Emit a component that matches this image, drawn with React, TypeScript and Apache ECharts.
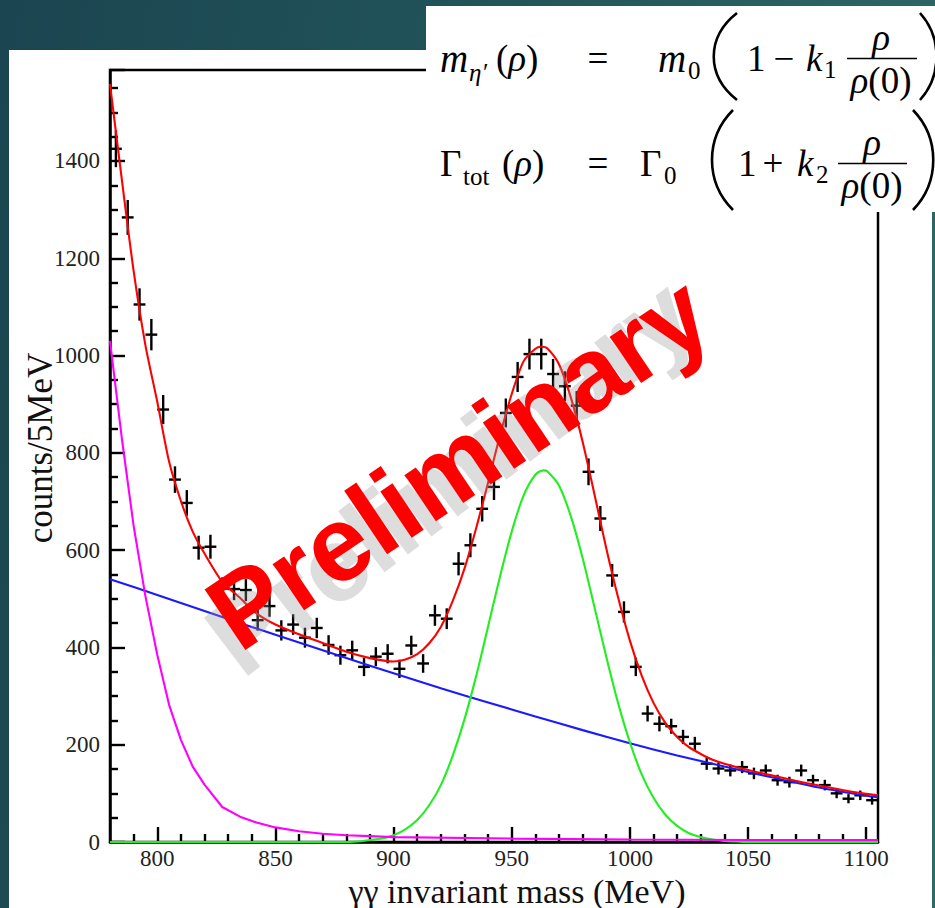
import React, { useEffect, useRef } from "react";
import * as echarts from "echarts";

// ---------- data ----------
const massBins = [
  782.5, 787.5, 792.5, 797.5, 802.5, 807.5, 812.5, 817.5, 822.5, 827.5,
  832.5, 837.5, 842.5, 847.5, 852.5, 857.5, 862.5, 867.5, 872.5, 877.5,
  882.5, 887.5, 892.5, 897.5, 902.5, 907.5, 912.5, 917.5, 922.5, 927.5,
  932.5, 937.5, 942.5, 947.5, 952.5, 957.5, 962.5, 967.5, 972.5, 977.5,
  982.5, 987.5, 992.5, 997.5, 1002.5, 1007.5, 1012.5, 1017.5, 1022.5, 1027.5,
  1032.5, 1037.5, 1042.5, 1047.5, 1052.5, 1057.5, 1062.5, 1067.5, 1072.5, 1077.5,
  1082.5, 1087.5, 1092.5, 1097.5, 1102.5,
];
const counts = [
  1425, 1284, 1105, 1043, 889, 745, 697, 605, 607, 521,
  520, 518, 456, 485, 435, 447, 420, 440, 405, 384,
  394, 360, 381, 387, 356, 404, 367, 466, 459, 572,
  610, 685, 730, 882, 956, 1003, 1003, 962, 937, 897,
  761, 665, 548, 473, 360, 264, 243, 238, 216, 202,
  161, 151, 147, 154, 141, 147, 127, 123, 147, 127,
  117, 100, 89, 96, 86,
];
const binHalfWidth = 2.5;

const totalMass = [
  780, 785, 790, 795, 800, 805, 810, 815, 820, 827.5, 835, 842, 850, 860, 870,
  880, 890, 900, 905, 910, 915, 920, 925, 930, 935, 940, 945, 950, 955, 960,
  962.5, 965, 970, 975, 980, 985, 990, 995, 1000, 1005, 1010, 1015, 1020, 1025,
  1030, 1035, 1040, 1050, 1060, 1070, 1080, 1090, 1100, 1105,
];
const totalFit = [
  1558, 1362, 1174, 1021, 905, 782, 701, 638, 593, 535, 502, 470, 447, 427, 409,
  391, 378, 371, 375, 386, 408, 442, 495, 562, 646, 739, 835, 921, 988, 1014,
  1018, 1015, 982, 914, 823, 715, 604, 503, 414, 342, 286, 245, 216, 195,
  181, 169, 161, 148, 137, 126, 116, 107, 99, 96,
];

const bkgMass = [780, 800, 820, 840, 860, 880, 900, 920, 940, 960, 980, 1000, 1020, 1040, 1060, 1080, 1100, 1105];
const bkgFit = [540, 508, 475, 442, 410, 378, 347, 316, 287, 258, 230, 203, 178, 155, 133, 112, 95, 92];

const lowMass = [780, 785, 790, 795, 800, 805, 810, 815, 820, 827.5, 835, 842, 850, 860, 870, 880, 890, 900, 950, 1000, 1050, 1105];
const lowFit = [1030, 830, 650, 505, 385, 282, 210, 155, 118, 72, 52, 40, 30, 22, 17, 14, 12, 10, 7, 5, 4, 4];

const peakMass = [
  780, 880, 885, 890, 895, 900, 905, 910, 915, 920, 925, 930, 935, 940, 945, 950,
  955, 960, 963.5, 965, 970, 975, 980, 985, 990, 995, 1000, 1005, 1010, 1015,
  1020, 1025, 1030, 1035, 1040, 1045, 1050, 1105,
];
const peakFit = [
  0, 0, 1, 4, 7, 14, 26, 45, 75, 117, 177, 252, 342, 443, 545, 638,
  712, 755, 764, 762, 733, 670, 584, 483, 381, 286, 205, 139, 91, 56,
  33, 18, 10, 5, 2, 1, 0, 0,
];

const xMajorTicks = [800, 850, 900, 950, 1000, 1050, 1100];
const xMinorTicks = [790, 810, 820, 830, 840, 860, 870, 880, 890, 910, 920, 930, 940, 960, 970, 980, 990, 1010, 1020, 1030, 1040, 1060, 1070, 1080, 1090];
const yMax = 1587;

const xTitle = "γγ invariant mass (MeV)";
const yTitle = "counts/5MeV";
const watermark = "Preliminary";

// ---------- helpers ----------
const SERIF = '"Liberation Serif", "Times New Roman", serif';
const SANS = '"Liberation Sans", Arial, sans-serif';

function txt(text: string, x: number, y: number, size: number, opts: any = {}) {
  return {
    type: "text",
    x,
    y,
    z: 120,
    style: {
      text,
      fontFamily: SERIF,
      fontSize: size,
      fontStyle: opts.italic ? "italic" : "normal",
      fill: "#000",
      align: opts.align || "left",
      verticalAlign: "middle",
      rich: opts.rich,
    },
  };
}

function paren(x1: number, y1: number, cx: number, y2: number) {
  const h = y2 - y1;
  return {
    type: "bezierCurve",
    z: 120,
    shape: {
      x1,
      y1,
      x2: x1,
      y2,
      cpx1: cx,
      cpy1: y1 + h * 0.28,
      cpx2: cx,
      cpy2: y2 - h * 0.28,
    },
    style: { stroke: "#000", lineWidth: 2.6, fill: "none" },
  };
}

function bar(x1: number, x2: number, y: number) {
  return {
    type: "line",
    z: 120,
    shape: { x1, y1: y, x2, y2: y },
    style: { stroke: "#000", lineWidth: 1.6 },
  };
}

const rhoRich = {
  i: { fontFamily: SERIF, fontStyle: "italic", fontSize: 37, fill: "#000" },
  n: { fontFamily: SERIF, fontStyle: "normal", fontSize: 37, fill: "#000" },
};

function buildOption() {
  const formula: any[] = [
    { type: "rect", z: 110, shape: { x: 426, y: 6, width: 515, height: 206 }, style: { fill: "#ffffff" } },
    // row 1
    txt("m", 440, 58, 39, { italic: true }),
    txt("η′", 469, 72, 25, { italic: true }),
    txt("{n|(}{i|ρ}{n|)}", 496, 58, 37, { rich: rhoRich }),
    txt("=", 598, 58, 37, { align: "center" }),
    txt("m", 658, 58, 39, { italic: true }),
    txt("0", 688, 70, 25),
    paren(737, 13, 706, 100),
    txt("1", 747, 58, 37),
    txt("−", 784, 58, 37, { align: "center" }),
    txt("k", 806, 58, 37, { italic: true }),
    txt("1", 824, 69, 25),
    txt("ρ", 881, 37, 37, { italic: true, align: "center" }),
    bar(847, 917, 58.5),
    txt("{i|ρ}{n|(0)}", 881, 80, 37, { rich: rhoRich, align: "center" }),
    paren(920, 13, 942, 100),
    // row 2
    txt("Γ", 440, 163, 37),
    txt("tot", 463, 176, 25),
    txt("{n|(}{i|ρ}{n|)}", 502, 163, 37, { rich: rhoRich }),
    txt("=", 598, 163, 37, { align: "center" }),
    txt("Γ", 640, 163, 37),
    txt("0", 664, 175, 25),
    paren(733, 110, 705, 210),
    txt("1", 738, 163, 37),
    txt("+", 773, 163, 37, { align: "center" }),
    txt("k", 797, 163, 37, { italic: true }),
    txt("2", 816, 174, 25),
    txt("ρ", 872, 142, 37, { italic: true, align: "center" }),
    bar(838, 907, 163.5),
    txt("{i|ρ}{n|(0)}", 872, 185, 37, { rich: rhoRich, align: "center" }),
    paren(913, 110, 940, 210),
  ];

  const titles: any[] = [
    {
      type: "text",
      x: 517,
      y: 891,
      z: 60,
      style: { text: xTitle, fontFamily: SERIF, fontSize: 34, fill: "#111", align: "center", verticalAlign: "middle" },
    },
    {
      type: "text",
      x: 40,
      y: 448,
      rotation: Math.PI / 2,
      z: 60,
      style: { text: yTitle, fontFamily: SERIF, fontSize: 35, fill: "#111", align: "center", verticalAlign: "middle" },
    },
  ];

  const mark: any[] = [
    {
      type: "text",
      x: 450,
      y: 476,
      rotation: 0.65,
      z: 48,
      style: {
        text: watermark,
        fontFamily: SANS,
        fontWeight: "bold",
        fontSize: 106,
        fill: "rgba(150,150,150,0.32)",
        align: "center",
        verticalAlign: "middle",
      },
    },
    {
      type: "text",
      x: 458,
      y: 462,
      rotation: 0.593,
      z: 50,
      style: {
        text: watermark,
        fontFamily: SANS,
        fontWeight: "bold",
        fontSize: 106,
        fill: "#ff0000",
        align: "center",
        verticalAlign: "middle",
      },
    },
  ];

  const axisLineStyle = { color: "#000", width: 2.5 };
  const tickStyle = { color: "#000", width: 2.4 };
  const labelStyle = { color: "#222", fontFamily: SERIF, fontSize: 23 };

  const lineSeries = (name: string, xs: number[], ys: number[], color: string, z: number, smooth: any) => ({
    type: "line",
    name,
    xAxisIndex: 0,
    yAxisIndex: 0,
    data: xs.map((m, i) => [m, ys[i]]),
    showSymbol: false,
    symbol: "none",
    smooth,
    clip: true,
    silent: true,
    z,
    lineStyle: { color, width: 2.1 },
  });

  return {
    animation: false,
    backgroundColor: "transparent",
    grid: {
      left: 110,
      top: 70,
      right: 57,
      bottom: 66,
      show: true,
      borderColor: "#000",
      borderWidth: 2.5,
      backgroundColor: "transparent",
    },
    xAxis: [
      {
        type: "value",
        min: 780,
        max: 1105,
        position: "bottom",
        axisLine: { show: true, onZero: false, lineStyle: axisLineStyle },
        axisTick: { show: true, inside: true, length: 15, lineStyle: tickStyle, customValues: xMajorTicks },
        axisLabel: {
          show: true,
          margin: 5,
          customValues: xMajorTicks,
          formatter: (v: number) => String(v),
          ...labelStyle,
        },
        splitLine: { show: false },
      },
      {
        type: "value",
        min: 780,
        max: 1105,
        position: "bottom",
        axisLine: { show: false },
        axisTick: { show: true, inside: true, length: 8, lineStyle: tickStyle, customValues: xMinorTicks },
        axisLabel: { show: false },
        splitLine: { show: false },
      },
    ],
    yAxis: {
      type: "value",
      min: 0,
      max: yMax,
      interval: 200,
      axisLine: { show: true, onZero: false, lineStyle: axisLineStyle },
      axisTick: { show: true, inside: true, length: 15, lineStyle: tickStyle },
      minorTick: { show: true, splitNumber: 4, length: 8, lineStyle: tickStyle },
      axisLabel: {
        margin: 10,
        showMaxLabel: false,
        formatter: (v: number) => (v % 200 === 0 ? String(v) : ""),
        ...labelStyle,
      },
      splitLine: { show: false },
      minorSplitLine: { show: false },
    },
    graphic: [...titles, ...mark, ...formula],
    series: [
      {
        type: "custom",
        name: "data",
        xAxisIndex: 0,
        yAxisIndex: 0,
        clip: true,
        silent: true,
        z: 3,
        data: massBins.map((m, i) => [m, counts[i], Math.sqrt(counts[i])]),
        renderItem: (params: any, api: any) => {
          const x = api.value(0);
          const y = api.value(1);
          const e = api.value(2);
          const l = api.coord([x - binHalfWidth, y]);
          const r = api.coord([x + binHalfWidth, y]);
          const t = api.coord([x, y + e]);
          const b = api.coord([x, y - e]);
          const style = { stroke: "#000", lineWidth: 2.4 };
          return {
            type: "group",
            children: [
              { type: "line", shape: { x1: l[0], y1: l[1], x2: r[0], y2: r[1] }, style },
              { type: "line", shape: { x1: t[0], y1: t[1], x2: b[0], y2: b[1] }, style },
            ],
          };
        },
      },
      lineSeries("background", bkgMass, bkgFit, "#1a1aff", 5, 0.3),
      lineSeries("signal", peakMass, peakFit, "#22ee22", 5, 0.3),
      lineSeries("low-mass", lowMass, lowFit, "#ff00ff", 6, false),
      lineSeries("total", totalMass, totalFit, "#ff0000", 7, 0.25),
    ],
  };
}

export default function App() {
  const ref = useRef<HTMLDivElement>(null);
  useEffect(() => {
    if (!ref.current) return;
    const chart = echarts.init(ref.current, null, { renderer: "svg" });
    chart.setOption(buildOption() as any);
    return () => chart.dispose();
  }, []);
  return (
    <div
      style={{
        position: "fixed",
        left: 0,
        top: 0,
        width: 935,
        height: 908,
        overflow: "hidden",
        background: "linear-gradient(100deg, #1b4550 0%, #215259 40%, #2a6260 75%, #2f6a67 100%)",
      }}
    >
      <div style={{ position: "absolute", left: 9, top: 50, width: 923, height: 858, background: "#ffffff" }} />
      <div ref={ref} style={{ position: "absolute", left: 0, top: 0, width: 935, height: 908 }} />
    </div>
  );
}
